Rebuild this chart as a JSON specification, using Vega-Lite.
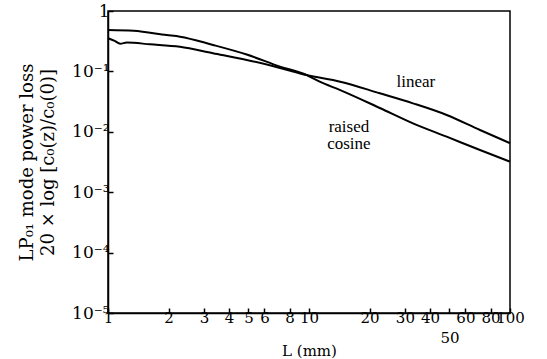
{
  "$schema": "https://vega.github.io/schema/vega-lite/v6.json",
  "width": 402,
  "height": 302,
  "autosize": {"type": "none"},
  "padding": {"left": 108, "top": 11, "right": 37, "bottom": 46},
  "background": "white",
  "config": {
    "view": {"stroke": "black", "strokeWidth": 1.5},
    "font": "Liberation Serif",
    "axis": {
      "domainColor": "black",
      "domainWidth": 1.5,
      "tickColor": "black",
      "tickWidth": 1.5,
      "labelColor": "black",
      "titleColor": "black",
      "labelFont": "DejaVu Serif",
      "titleFont": "DejaVu Serif",
      "labelFontSize": 15,
      "titleFontSize": 15,
      "titleFontWeight": "normal",
      "grid": false
    }
  },
  "datasets": {
    "curves": [
      {"series": "raised cosine", "L": 1.0, "v": 0.485},
      {"series": "raised cosine", "L": 1.34, "v": 0.47},
      {"series": "raised cosine", "L": 1.96, "v": 0.40},
      {"series": "raised cosine", "L": 2.28, "v": 0.376},
      {"series": "raised cosine", "L": 3.33, "v": 0.274},
      {"series": "raised cosine", "L": 4.9, "v": 0.19},
      {"series": "raised cosine", "L": 7.17, "v": 0.12},
      {"series": "raised cosine", "L": 9.74, "v": 0.087},
      {"series": "raised cosine", "L": 11.3, "v": 0.0675},
      {"series": "raised cosine", "L": 14.3, "v": 0.049},
      {"series": "raised cosine", "L": 22.5, "v": 0.0248},
      {"series": "raised cosine", "L": 32.9, "v": 0.0138},
      {"series": "raised cosine", "L": 48.4, "v": 0.0083},
      {"series": "raised cosine", "L": 70.9, "v": 0.0050},
      {"series": "raised cosine", "L": 100, "v": 0.0032},
      {"series": "linear", "L": 1.0, "v": 0.353},
      {"series": "linear", "L": 1.08, "v": 0.32},
      {"series": "linear", "L": 1.15, "v": 0.288},
      {"series": "linear", "L": 1.24, "v": 0.30},
      {"series": "linear", "L": 1.62, "v": 0.281},
      {"series": "linear", "L": 2.28, "v": 0.256},
      {"series": "linear", "L": 3.33, "v": 0.2},
      {"series": "linear", "L": 4.9, "v": 0.155},
      {"series": "linear", "L": 7.17, "v": 0.114},
      {"series": "linear", "L": 9.74, "v": 0.087},
      {"series": "linear", "L": 14.3, "v": 0.0676},
      {"series": "linear", "L": 22.5, "v": 0.0434},
      {"series": "linear", "L": 32.9, "v": 0.0296},
      {"series": "linear", "L": 48.4, "v": 0.019},
      {"series": "linear", "L": 70.9, "v": 0.0107},
      {"series": "linear", "L": 100, "v": 0.0065}
    ],
    "labels": [
      {"text": "linear", "L": 34, "v": 0.067},
      {"text": "raised", "L": 15.8, "v": 0.0122},
      {"text": "cosine", "L": 15.8, "v": 0.0062}
    ]
  },
  "layer": [
    {
      "data": {"name": "curves"},
      "mark": {"type": "line", "color": "black", "strokeWidth": 2, "interpolate": "monotone"},
      "encoding": {
        "x": {
          "field": "L",
          "type": "quantitative",
          "scale": {"type": "log", "domain": [1, 100], "nice": false},
          "axis": {
            "title": "L (mm)",
            "values": [1, 2, 3, 4, 5, 6, 8, 10, 20, 30, 40, 50, 60, 80, 100],
            "labelExpr": "datum.value == 50 ? ['', '50'] : '' + datum.value",
            "tickSize": -5,
            "labelPadding": 2,
            "labelLineHeight": 20,
            "labelFlush": false,
            "labelOverlap": false,
            "titleY": 30,
            "titleBaseline": "top"
          }
        },
        "y": {
          "field": "v",
          "type": "quantitative",
          "scale": {"type": "log", "domain": [0.00001, 1], "nice": false},
          "axis": {
            "title": ["LP₀₁ mode power loss", "20 × log [c₀(z)/c₀(0)]"],
            "values": [0.00001, 0.0001, 0.001, 0.01, 0.1, 1],
            "labelExpr": "datum.value >= 1 ? '1' : '10⁻' + ['', '¹', '²', '³', '⁴', '⁵'][round(-log(datum.value) / LN10)]",
            "labelFontSize": 17,
            "tickSize": -5,
            "labelPadding": 4,
            "labelFlush": false,
            "labelOverlap": false,
            "titleFontSize": 18,
            "titleLineHeight": 21,
            "titlePadding": 14
          }
        },
        "detail": {"field": "series"}
      }
    },
    {
      "data": {"name": "labels"},
      "mark": {"type": "text", "fontSize": 17, "font": "Liberation Serif", "color": "black"},
      "encoding": {
        "x": {"field": "L", "type": "quantitative"},
        "y": {"field": "v", "type": "quantitative"},
        "text": {"field": "text"}
      }
    }
  ]
}
